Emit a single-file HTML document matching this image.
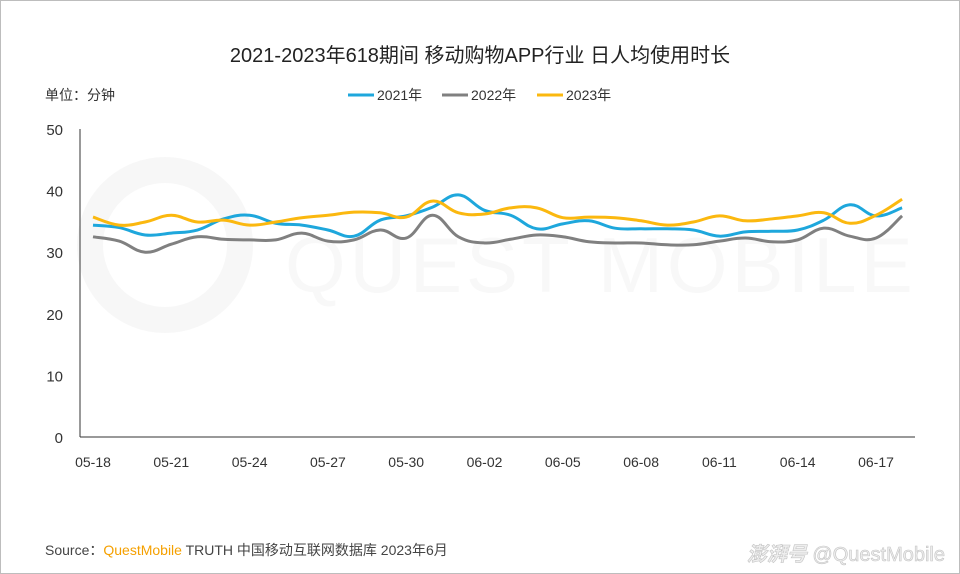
<!DOCTYPE html>
<html><head><meta charset="utf-8">
<style>
body{margin:0;background:#fff;}
svg{display:block;font-family:"Liberation Sans","Noto Sans CJK SC",sans-serif;}
</style></head>
<body>
<svg id="c" width="960" height="574" viewBox="0 0 960 574">
<rect x="0.5" y="0.5" width="959" height="573" fill="#fff" stroke="#bdbdbd"/>
<g opacity="0.45">
<circle cx="165" cy="245" r="75" fill="none" stroke="#eeeeee" stroke-width="26"/>
<text x="285" y="292" font-size="78" fill="#f0f0f0" letter-spacing="4">QUEST MOBILE</text>
</g>
<text x="480" y="62" text-anchor="middle" font-size="20" fill="#222">2021-2023年618期间 移动购物APP行业 日人均使用时长</text>
<text x="45" y="100" font-size="14" fill="#333">单位：分钟</text>
<g id="legend"></g>
<g id="axes"></g>
<g id="series"></g>
<text x="45" y="555" font-size="14" fill="#444">Source：<tspan fill="#f5a000">QuestMobile</tspan> TRUTH 中国移动互联网数据库 2023年6月</text>
<text x="945" y="561" text-anchor="end" font-size="20" fill="#eee" stroke="#c4c4c4" stroke-width="0.6"><tspan font-style="italic" font-weight="bold">澎湃号</tspan>  @QuestMobile</text>
</svg>
<script>
const categories=["05-18","05-19","05-20","05-21","05-22","05-23","05-24","05-25","05-26","05-27","05-28","05-29","05-30","05-31","06-01","06-02","06-03","06-04","06-05","06-06","06-07","06-08","06-09","06-10","06-11","06-12","06-13","06-14","06-15","06-16","06-17","06-18"];
const s2021=[34.4,34,32.8,33.1,33.6,35.4,36,34.7,34.4,33.6,32.6,35.2,35.9,37.3,39.3,36.8,36,33.8,34.6,35.1,33.9,33.8,33.8,33.6,32.6,33.3,33.4,33.6,35.2,37.7,35.9,37.2];
const s2022=[32.5,31.8,30,31.3,32.5,32.1,32,32,33.1,31.8,32,33.6,32.3,36,32.5,31.5,32.1,32.8,32.5,31.7,31.5,31.5,31.2,31.2,31.8,32.3,31.7,32,33.9,32.6,32.3,35.9];
const s2023=[35.7,34.4,34.9,36,34.9,35.2,34.4,34.9,35.6,36,36.5,36.4,35.7,38.3,36.4,36.2,37.2,37.2,35.6,35.7,35.6,35.1,34.4,34.9,35.9,35.1,35.4,35.9,36.4,34.7,36,38.6];
const yTicks=[0,10,20,30,40,50];
const xTickLabels=["05-18","05-21","05-24","05-27","05-30","06-02","06-05","06-08","06-11","06-14","06-17"];
const seriesNames=["2021年","2022年","2023年"];
const colors=["#1ea7dc","#808080","#fbb80f"];
const NS="http://www.w3.org/2000/svg";
const x0=93,dx=26.1,yb=437,yt=129;
const xs=i=>x0+i*dx;
const ys=v=>yb-(v/50)*(yb-yt);
function mk(tag,attrs,parent){const e=document.createElementNS(NS,tag);for(const k in attrs)e.setAttribute(k,attrs[k]);parent.appendChild(e);return e;}
const axes=document.getElementById('axes');
let ax=mk('line',{x1:80,y1:yt,x2:80,y2:yb,stroke:'#333','stroke-width':1},axes);


let bx=mk('line',{x1:80,y1:yb,x2:915,y2:yb,stroke:'#333','stroke-width':1},axes);


yTicks.forEach(v=>{const t=mk('text',{x:63,y:ys(v)+6,'text-anchor':'end','font-size':15,fill:'#333'},axes);t.textContent=v;

});
xTickLabels.forEach(l=>{const i=categories.indexOf(l);const t=mk('text',{x:xs(i),y:467,'text-anchor':'middle','font-size':14,fill:'#333'},axes);t.textContent=l;

});
function path(vals){const p=vals.map((v,i)=>[xs(i),ys(v)]);let d=`M${p[0][0]},${p[0][1]}`;
for(let i=0;i<p.length-1;i++){const a=p[i-1]||p[i],b=p[i],c=p[i+1],e=p[i+2]||c;const t=0.2;
d+=` C${b[0]+(c[0]-a[0])*t},${b[1]+(c[1]-a[1])*t} ${c[0]-(e[0]-b[0])*t},${c[1]-(e[1]-b[1])*t} ${c[0]},${c[1]}`;}return d;}
const g=document.getElementById('series');
[s2021,s2022,s2023].forEach((s,k)=>{const p=mk('path',{d:path(s),fill:'none',stroke:colors[k],'stroke-width':3,'stroke-linejoin':'round'},g);

});
const lg=document.getElementById('legend');
const lx=[348,442,537];
seriesNames.forEach((n,k)=>{const e=mk('g',{},lg);


mk('line',{x1:lx[k],y1:95,x2:lx[k]+26,y2:95,stroke:colors[k],'stroke-width':3},e);
const t=mk('text',{x:lx[k]+29,y:100,'font-size':14,fill:'#333'},e);t.textContent=n;});
</script>
</body></html>
